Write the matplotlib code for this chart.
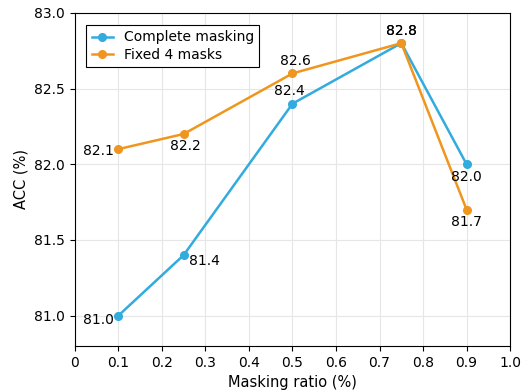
import matplotlib.pyplot as plt

ratios = [0.1, 0.25, 0.5, 0.75, 0.9]
complete = [81.0, 81.4, 82.4, 82.8, 82.0]
fixed = [82.1, 82.2, 82.6, 82.8, 81.7]

blue = '#32ABDE'
orange = '#F0961E'

fig = plt.figure(figsize=(5.27, 3.9), dpi=100)
ax = fig.add_axes([0.142, 0.113, 0.826, 0.854])

ax.plot(ratios, complete, '-o', color=blue, lw=1.8, ms=5.5, label='Complete masking')
ax.plot(ratios, fixed, '-o', color=orange, lw=1.8, ms=5.5, label='Fixed 4 masks')

# label offsets (points) for each point
c_off = [(-14, -3), (15, -4), (-2, 9), (0, 9), (0, -9)]
f_off = [(-14, -1), (1, -9), (2, 9), (0, 9), (0, -9)]
for x, y, o in zip(ratios, complete, c_off):
    ax.annotate(f'{y:.1f}', (x, y), xytext=o, textcoords='offset points',
                ha='center', va='center', fontsize=10)
for x, y, o in zip(ratios, fixed, f_off):
    ax.annotate(f'{y:.1f}', (x, y), xytext=o, textcoords='offset points',
                ha='center', va='center', fontsize=10)

ax.set_xlim(0, 1.0)
ax.set_ylim(80.8, 83.0)
ax.set_xticks([i / 10 for i in range(11)])
ax.set_xticklabels(['0'] + [f'{i / 10:.1f}' for i in range(1, 11)])
ax.set_yticks([81.0, 81.5, 82.0, 82.5, 83.0])
ax.set_yticklabels(['81.0', '81.5', '82.0', '82.5', '83.0'])
ax.tick_params(labelsize=10)
ax.grid(True, color='#e6e6e6', lw=0.8)
ax.set_axisbelow(True)
ax.set_xlabel('Masking ratio (%)', fontsize=10.5)
ax.set_ylabel('ACC (%)', fontsize=10.5)

leg = ax.legend(loc='upper left', fontsize=10, fancybox=False, framealpha=1,
                edgecolor='black', borderpad=0.4, labelspacing=0.25,
                handlelength=1.5, bbox_to_anchor=(0.01, 0.985))
leg.get_frame().set_linewidth(0.8)

plt.savefig('out.png')
